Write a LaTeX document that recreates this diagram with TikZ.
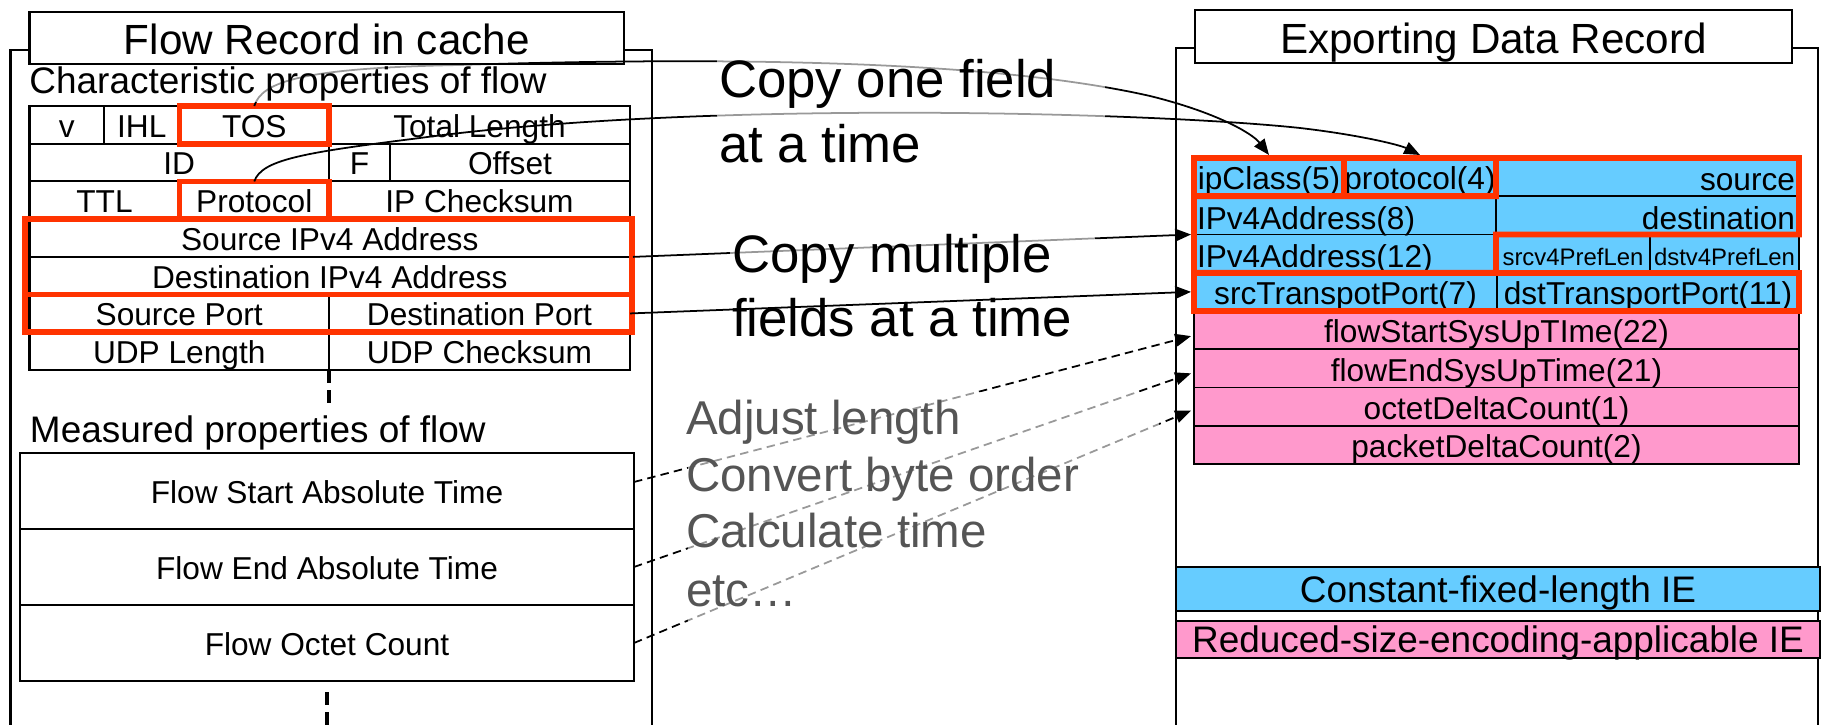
\documentclass[tikz,border=0pt]{standalone}
\usepackage{fontspec}
\setmainfont{Liberation Sans}
\usetikzlibrary{arrows.meta}
\definecolor{ieblue}{RGB}{102,204,255}
\definecolor{iepink}{RGB}{255,153,204}
\definecolor{hired}{RGB}{255,51,0}
\definecolor{notegray}{RGB}{85,85,85}
\newcommand\cellat[6]{\node[#1, minimum width={(#4-#2)*0.01cm}, minimum height={(#5-#3)*0.01cm}] (#6) at (#2,#3)}
\newcommand\fTab{\fontsize{9}{10.8}\selectfont}
\newcommand\fTitle{\fontsize{12}{14.4}\selectfont}
\newcommand\fHead{\fontsize{10.5}{12.6}\selectfont}
\newcommand\fCopy{\fontsize{15}{18}\selectfont}
\newcommand\fNote{\fontsize{13.5}{16}\selectfont}
\newcommand\fSmall{\fontsize{6.8}{8}\selectfont}
\begin{document}
\begin{tikzpicture}[x=0.01cm, y=-0.01cm,
  cellbase/.style={draw=black, line width=0.6pt, inner sep=0pt, outer sep=0pt, anchor=north west},
  lc/.style={cellbase, font=\fTab, text height=7pt, text depth=0pt},
  rc/.style={cellbase, line width=0.5pt, fill=ieblue, font=\fTab, text height=7.3pt, text depth=0pt},
  smallc/.style={rc, font=\fSmall, text height=6.5pt},
  pc/.style={rc, fill=iepink},
  mc/.style={cellbase, line width=0.8pt, font=\fTab, text height=7pt, text depth=0pt},
  tbox/.style={cellbase, fill=white, font=\fTitle, text height=9.4pt, text depth=0pt},
  lg/.style={cellbase, font=\fHead, text height=7.4pt, text depth=0pt},
  lgb/.style={lg, fill=ieblue},
  lgp/.style={lg, fill=iepink},
  panel/.style={line width=0.6pt},
  redbox/.style={draw=hired, line width=1.6pt},
  lbl/.style={inner sep=0pt, outer sep=0pt, font=\fTab},
  conn/.style={line width=0.5pt, -{Triangle[length=4.5pt,width=3.6pt]}},
  dconn/.style={conn, dash pattern=on 2.4pt off 1.5pt},
  vdash/.style={line width=1.1pt, dash pattern=on 3.7pt off 2pt},
  veil/.style={fill=white, fill opacity=0.6},
  free/.style={anchor=base west, inner sep=0pt, outer sep=0pt},
]
\useasboundingbox (0,0) rectangle (1821,725);
% panels
\draw[panel] (10.5,725) -- (10.5,50) -- (652,50) -- (652,725);
\draw[panel] (1176,725) -- (1176,48) -- (1818,48) -- (1818,725);
% titles
\cellat{tbox}{29.5}{11.7}{624}{64}{ttl} {Flow Record in cache};
\cellat{tbox}{1195}{10}{1792}{63}{ttr} {Exporting Data Record};
% left table
\cellat{lc}{29.5}{106}{104}{143.7}{v} {v};
\cellat{lc}{104}{106}{179.5}{143.7}{ihl} {IHL};
\cellat{lc}{179.5}{106}{329}{143.7}{tos} {TOS};
\cellat{lc}{329}{106}{630}{143.7}{tl} {Total Length};
\cellat{lc}{29.5}{143.7}{329}{181.4}{id} {ID};
\cellat{lc}{329}{143.7}{390}{181.4}{flg} {F};
\cellat{lc}{390}{143.7}{630}{181.4}{off} {Offset};
\cellat{lc}{29.5}{181.4}{179.5}{219.1}{ttlc} {TTL};
\cellat{lc}{179.5}{181.4}{329}{219.1}{prot} {Protocol};
\cellat{lc}{329}{181.4}{630}{219.1}{chk} {IP Checksum};
\cellat{lc}{29.5}{219.1}{630}{256.9}{sip} {Source IPv4 Address};
\cellat{lc}{29.5}{256.9}{630}{294.6}{dip} {Destination IPv4 Address};
\cellat{lc}{29.5}{294.6}{329}{332.3}{sp} {Source Port};
\cellat{lc}{329}{294.6}{630}{332.3}{dp} {Destination Port};
\cellat{lc}{29.5}{332.3}{329}{370}{ul} {UDP Length};
\cellat{lc}{329}{332.3}{630}{370}{uc} {UDP Checksum};
% measured
\node[free, font=\fHead] (meas) at (30,443) {Measured properties of flow};
\cellat{mc}{20}{453}{634}{529}{fsa} {Flow Start Absolute Time};
\cellat{mc}{20}{529}{634}{605}{fea} {Flow End Absolute Time};
\cellat{mc}{20}{605}{634}{681}{oca} {Flow Octet Count};
\coordinate (pbot) at (326,725);
\draw[vdash] (uc.south west) -- ++(0,40);
\draw[vdash] ([yshift=-0.11cm]oca.south) -- (oca.south |- pbot);
% right table
\cellat{rc}{1194}{158}{1344}{196.25}{ipc} {ipClass(5)};
\cellat{rc}{1344}{158}{1496}{196.25}{pro} {protocol(4)};
\cellat{rc}{1496}{158}{1799}{196.25}{src} {};
\cellat{rc}{1194}{196.25}{1496}{234.5}{ip8} {};
\cellat{rc}{1496}{196.25}{1799}{234.5}{dst} {};
\cellat{rc}{1194}{234.5}{1496}{272.75}{ip12} {};
\cellat{smallc}{1496}{234.5}{1650}{272.75}{spl} {srcv4PrefLen};
\cellat{smallc}{1650}{234.5}{1799}{272.75}{dpl} {dstv4PrefLen};
\cellat{rc}{1194}{272.75}{1497}{311}{stp} {srcTranspotPort(7)};
\cellat{rc}{1497}{272.75}{1799}{311}{dtp} {dstTransportPort(11)};
\cellat{pc}{1194}{311}{1799}{349.25}{fs} {flowStartSysUpTIme(22)};
\cellat{pc}{1194}{349.25}{1799}{387.5}{fe} {flowEndSysUpTime(21)};
\cellat{pc}{1194}{387.5}{1799}{425.75}{oc} {octetDeltaCount(1)};
\cellat{pc}{1194}{425.75}{1799}{464}{pk} {packetDeltaCount(2)};
\node[lbl, anchor=base east] (srcT) at ([shift={(-4,-6)}]src.south east) {source};
\node[lbl, anchor=base east] (dstT) at ([shift={(-4,-4.5)}]dst.south east) {destination};
\node[lbl, anchor=base west] (ip8T) at ([shift={(3,-4.5)}]ip8.south west) {IPv4Address(8)};
\node[lbl, anchor=base west] (ip12T) at ([shift={(3,-5.5)}]ip12.south west) {IPv4Address(12)};
% legend
\cellat{lgb}{1176}{567}{1820}{611}{lgc} {Constant-fixed-length IE};
\cellat{lgp}{1176}{621}{1820}{658}{lgr} {Reduced-size-encoding-applicable IE};
% red boxes
\draw[redbox] (tos.north west) rectangle (tos.south east);
\draw[redbox] (prot.north west) rectangle (prot.south east);
\draw[redbox] ([xshift=-0.045cm]sip.north west) rectangle ([xshift=0.02cm]dip.south east);
\draw[redbox] ([xshift=-0.045cm]sp.north west) rectangle ([xshift=0.02cm]dp.south east);
\draw[redbox] (ipc.north west) rectangle (ipc.south east);
\draw[redbox] (pro.north west) rectangle (pro.south east);
\draw[redbox] (src.north west) -- (src.north east) -- (dst.south east) -- (dst.south west) -- (ip12.south east) -- (ip12.south west) -- (ip8.north west) -- (src.south west) -- cycle;
\draw[redbox] (stp.north west) rectangle (dtp.south east);
% connectors
\draw[conn] (tos.north) .. controls (262,82) and (300,68) .. (460,65) .. controls (750,56) and (1000,62) .. (1150,96) .. controls (1215,112) and (1252,133) .. ([yshift=0.03cm]ipc.north);
\draw[conn] (prot.north) .. controls (262,160) and (300,153) .. (420,138) .. controls (700,100) and (1150,112) .. (1300,128) .. controls (1360,135) and (1400,145) .. ([yshift=0.03cm]pro.north);
\draw[conn] ([xshift=0.03cm]sip.south east) -- ([xshift=-0.03cm]ip8.south west);
\draw[dconn] ([yshift=0.09cm]fsa.east) -- ([shift={(-3,6)}]fs.west);
\draw[dconn] (fea.east) -- ([shift={(-3,5)}]fe.west);
\draw[dconn] (oca.east) -- ([shift={(-3,4)}]oc.west);
% veils behind text boxes
\fill[veil] (27,65) rectangle (626,102);
\fill[veil] (717,50) rectangle (1105,175);
\fill[veil] (730,228) rectangle (1095,345);
\fill[veil] (688,392) rectangle (1159,622);
\draw[conn] (dp.east) -- ([xshift=-0.03cm]stp.west);
% free texts
\node[free, font=\fHead] (chr) at (29.5,94) {Characteristic properties of flow};
\node[free, font=\fCopy] (cp1) at (719,98) {Copy one field};
\node[free, font=\fCopy] (cp2) at (719,163) {at a time};
\node[free, font=\fCopy] (cm1) at (732,273) {Copy multiple};
\node[free, font=\fCopy] (cm2) at (732,337) {fields at a time};
\node[free, font=\fNote, text=notegray] (n1) at (686,435) {Adjust length};
\node[free, font=\fNote, text=notegray] (n2) at (686,492) {Convert byte order};
\node[free, font=\fNote, text=notegray] (n3) at (686,548) {Calculate time};
\node[free, font=\fNote, text=notegray] (n4) at (686,607) {etc…};
\end{tikzpicture}
\end{document}
